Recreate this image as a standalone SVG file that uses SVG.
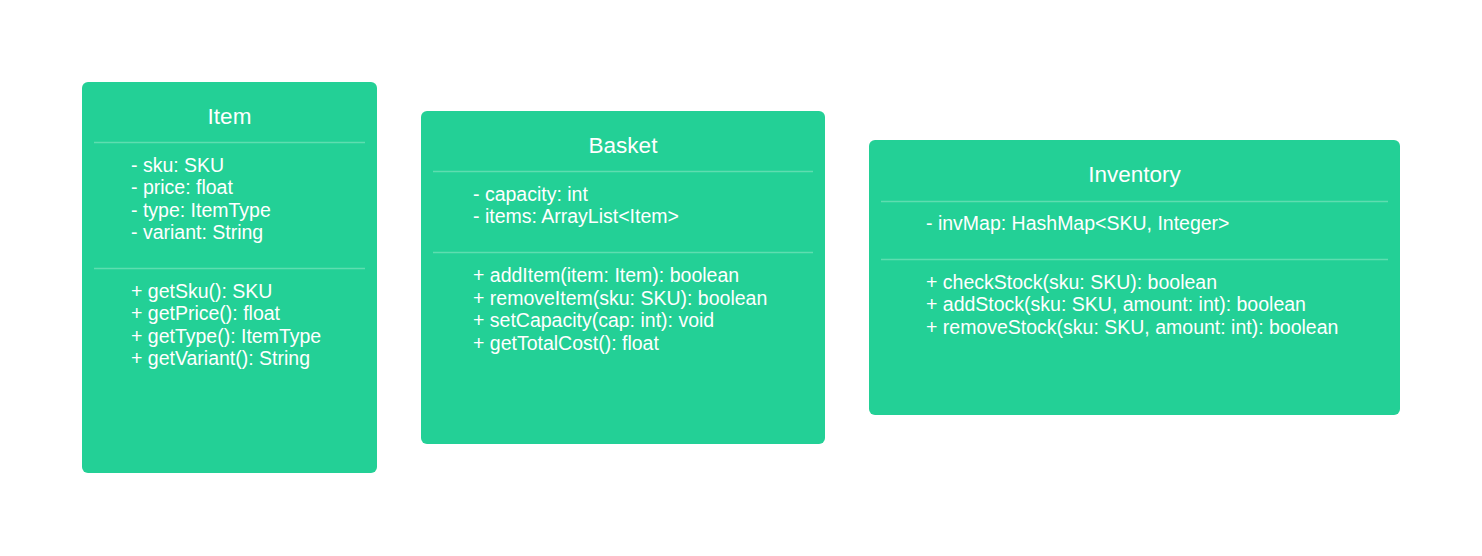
<svg xmlns="http://www.w3.org/2000/svg" width="1482" height="556" viewBox="0 0 1482 556">
<style>
.box{fill:#23D096;}
.div{stroke:#5EDDB0;stroke-width:1.5;}
.title{font-family:"Liberation Sans",Arial,sans-serif;font-size:22.5px;fill:#ffffff;text-anchor:middle;}
.t{font-family:"Liberation Sans",Arial,sans-serif;font-size:19.5px;fill:#ffffff;}
</style>
<rect width="1482" height="556" fill="#ffffff"/>
<g id="item">
<rect class="box" x="82" y="82" width="295" height="391" rx="6"/>
<text class="title" x="229.5" y="124">Item</text>
<line class="div" x1="94" y1="142.5" x2="365" y2="142.5"/>
<text class="t" x="131" y="172">- sku: SKU</text>
<text class="t" x="131" y="194">- price: float</text>
<text class="t" x="131" y="217">- type: ItemType</text>
<text class="t" x="131" y="239">- variant: String</text>
<line class="div" x1="94" y1="268.5" x2="365" y2="268.5"/>
<text class="t" x="131" y="298">+ getSku(): SKU</text>
<text class="t" x="131" y="320">+ getPrice(): float</text>
<text class="t" x="131" y="343">+ getType(): ItemType</text>
<text class="t" x="131" y="365">+ getVariant(): String</text>
</g>
<g id="basket">
<rect class="box" x="421" y="111" width="404" height="333" rx="6"/>
<text class="title" x="623" y="153">Basket</text>
<line class="div" x1="433" y1="171.5" x2="813" y2="171.5"/>
<text class="t" x="473" y="201">- capacity: int</text>
<text class="t" x="473" y="223">- items: ArrayList&lt;Item&gt;</text>
<line class="div" x1="433" y1="252.5" x2="813" y2="252.5"/>
<text class="t" x="473" y="282">+ addItem(item: Item): boolean</text>
<text class="t" x="473" y="305">+ removeItem(sku: SKU): boolean</text>
<text class="t" x="473" y="327">+ setCapacity(cap: int): void</text>
<text class="t" x="473" y="350">+ getTotalCost(): float</text>
</g>
<g id="inventory">
<rect class="box" x="869" y="140" width="531" height="275" rx="6"/>
<text class="title" x="1134.5" y="182">Inventory</text>
<line class="div" x1="881" y1="201.5" x2="1388" y2="201.5"/>
<text class="t" x="926" y="230">- invMap: HashMap&lt;SKU, Integer&gt;</text>
<line class="div" x1="881" y1="259.5" x2="1388" y2="259.5"/>
<text class="t" x="926" y="289">+ checkStock(sku: SKU): boolean</text>
<text class="t" x="926" y="311">+ addStock(sku: SKU, amount: int): boolean</text>
<text class="t" x="926" y="334">+ removeStock(sku: SKU, amount: int): boolean</text>
</g>
<g id="connectors"></g>
</svg>
